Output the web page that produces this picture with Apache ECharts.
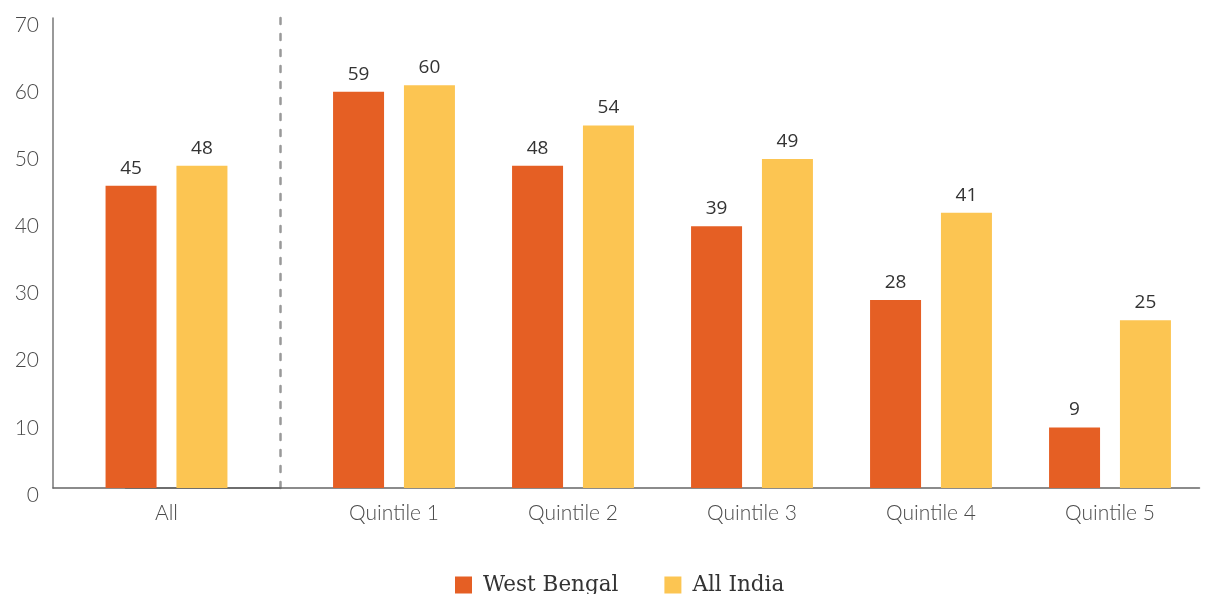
<!DOCTYPE html>
<html>
<head>
<meta charset="utf-8">
<script src="https://cdn.jsdelivr.net/npm/echarts@6/dist/echarts.min.js"></script>
<style>
  html, body { margin: 0; padding: 0; background: #fff; }
  #chart { width: 1207px; height: 594px; }
</style>
</head>
<body>
<div id="chart"></div>
<script>
// data
const allCategory = ['All']
const quintileCategories = ['', 'Quintile 1', 'Quintile 2', 'Quintile 3', 'Quintile 4', 'Quintile 5']
const westBengalAll = [45]
const allIndiaAll = [48]
const westBengalQuintile = [null, 59, 48, 39, 28, 9]
const allIndiaQuintile = [null, 60, 54, 49, 41, 25]
const yTicks = { min: 0, max: 70, interval: 10 }

const orange = '#E55F24'
const yellow = '#FCC552'

const myEChart = echarts.init(document.getElementById('chart'))

const barLabel = {
  show: true,
  position: 'top',
  distance: 8,
  color: '#333',
  fontSize: 19,
  fontFamily: 'Open Sans'
}
const xLabel = {
  color: '#4a4a4a',
  fontSize: 21,
  fontFamily: 'Lato',
  fontWeight: 300,
  margin: 15
}

const option = {
  animation: false,
  legend: {
    data: ['West Bengal', 'All India'],
    bottom: -2,
    left: 455,
    icon: 'rect',
    itemWidth: 17,
    itemHeight: 17,
    itemGap: 46,
    padding: 0,
    textStyle: { fontFamily: 'DejaVu Serif', fontSize: 21.5, color: '#333', padding: [0, 0, 0, 6] }
  },
  grid: [
    // "All" block, left of the dashed separator
    { left: 53, width: 227, top: 18, bottom: 106 },
    // quintile block (first slot left blank, overlaps the first grid)
    { left: 125.5, right: 7.5, top: 18, bottom: 106 }
  ],
  xAxis: [
    {
      type: 'category', gridIndex: 0, data: allCategory,
      axisLine: { lineStyle: { color: '#666', width: 1.5 } },
      axisTick: { show: false },
      axisLabel: xLabel
    },
    {
      type: 'category', gridIndex: 1, data: quintileCategories,
      axisLine: { lineStyle: { color: '#666', width: 1.5 } },
      axisTick: { show: false },
      axisLabel: xLabel
    }
  ],
  yAxis: [
    {
      type: 'value', gridIndex: 0, ...yTicks,
      splitLine: { show: false },
      axisLine: { show: true, lineStyle: { color: '#777', width: 1.5 } },
      axisTick: { show: false },
      axisLabel: {
        color: '#4a4a4a', fontSize: 21, fontFamily: 'Lato', fontWeight: 300,
        margin: 14, verticalAlign: 'top', lineHeight: 14
      }
    },
    {
      // dashed separator
      type: 'value', gridIndex: 0, position: 'right', ...yTicks,
      splitLine: { show: false },
      axisLine: { show: true, lineStyle: { color: '#999', width: 2.5, type: [6, 10] } },
      axisTick: { show: false },
      axisLabel: { show: false }
    },
    {
      type: 'value', gridIndex: 1, ...yTicks, show: false
    }
  ],
  series: [
    {
      name: 'West Bengal', type: 'bar', xAxisIndex: 0, yAxisIndex: 0,
      data: westBengalAll, barWidth: 51, barGap: '39%',
      itemStyle: { color: orange }, label: barLabel
    },
    {
      name: 'All India', type: 'bar', xAxisIndex: 0, yAxisIndex: 0,
      data: allIndiaAll, barWidth: 51, barGap: '39%',
      itemStyle: { color: yellow }, label: barLabel
    },
    {
      name: 'West Bengal', type: 'bar', xAxisIndex: 1, yAxisIndex: 2,
      data: westBengalQuintile, barWidth: 51, barGap: '39%',
      itemStyle: { color: orange }, label: barLabel
    },
    {
      name: 'All India', type: 'bar', xAxisIndex: 1, yAxisIndex: 2,
      data: allIndiaQuintile, barWidth: 51, barGap: '39%',
      itemStyle: { color: yellow }, label: barLabel
    }
  ]
}
myEChart.setOption(option)
window.addEventListener('resize', () => {
  myEChart?.resize()
})
</script>
</body>
</html>
